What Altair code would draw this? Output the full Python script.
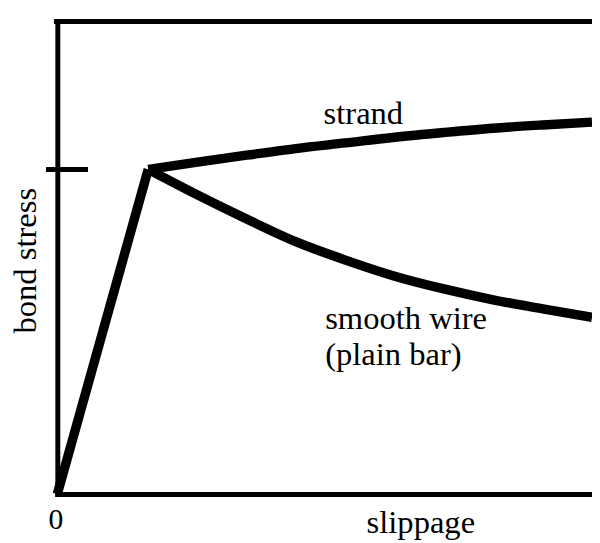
import altair as alt
import pandas as pd

# Reference values (arbitrary units)
rise_slip = [0, 17.0]
rise_stress = [0, 68.7]
strand_slip = [17.0, 26.2, 35.4, 44.6, 53.9, 63.1, 72.3, 81.5, 90.8, 100]
strand_stress = [68.7, 70.25, 71.7, 73.1, 74.3, 75.5, 76.5, 77.4, 78.1, 78.7]
smooth_slip = [17.0, 26.2, 35.4, 44.6, 53.9, 63.1, 72.3, 81.5, 90.8, 100]
smooth_stress = [68.7, 63.3, 58.2, 53.4, 49.5, 46.1, 43.4, 41.1, 39.2, 37.4]
peak_stress = 68.7

label_text = ["strand", "smooth wire", "(plain bar)"]
label_slip = [49.8, 50.1, 50.1]
label_stress = [78.3, 34.9, 27.3]

rows = []
for name, xs, ys in [("rise", rise_slip, rise_stress),
                     ("strand", strand_slip, strand_stress),
                     ("smooth", smooth_slip, smooth_stress)]:
    for i, (a, b) in enumerate(zip(xs, ys)):
        rows.append({"series": name, "slip": a, "stress": b, "order": i})
lines_df = pd.DataFrame(rows)
labels_df = pd.DataFrame({"text": label_text, "slip": label_slip, "stress": label_stress})

W, H = 542, 479
FONT = "'Liberation Serif', 'Times New Roman', Times, 'DejaVu Serif', serif"
xscale = alt.Scale(domain=[0, 100], nice=False, zero=False)
yscale = alt.Scale(domain=[0, 100], nice=False, zero=False)

lines = alt.Chart(lines_df).mark_line(
    color="black", strokeWidth=9.5, interpolate="monotone", strokeJoin="miter", strokeCap="butt"
).encode(
    x=alt.X("slip:Q", scale=xscale, axis=alt.Axis(
        values=[0], ticks=False, grid=False, labelFlush=False, format="d",
        labelFont=FONT, labelFontSize=30, labelColor="black",
        labelBaseline="alphabetic", labelPadding=35, labelOffset=-2,
        title="slippage", titleFont=FONT, titleFontSize=33, titleFontWeight="normal",
        titleColor="black", titleX=368, titleY=39, titleAlign="center",
        titleBaseline="alphabetic")),
    y=alt.Y("stress:Q", scale=yscale, axis=alt.Axis(
        values=[peak_stress], ticks=False, labels=False, grid=False,
        title="bond stress", titleFont=FONT, titleFontSize=33, titleFontWeight="normal",
        titleColor="black", titleAngle=270, titleX=-22, titleY=242,
        titleAlign="center", titleBaseline="alphabetic")),
    detail="series:N",
    order="order:Q",
)

texts = alt.Chart(labels_df).mark_text(
    font=FONT, fontSize=33, color="black", align="left", baseline="alphabetic"
).encode(
    x=alt.X("slip:Q", scale=xscale),
    y=alt.Y("stress:Q", scale=yscale),
    text="text:N",
)

tick = alt.Chart(lines_df).mark_rule(
    color="black", strokeWidth=5
).encode(
    y=alt.datum(peak_stress),
    x=alt.value(-11), x2=alt.value(31),
)

top = alt.Chart(lines_df).mark_rule(
    color="black", strokeWidth=5
).encode(
    y=alt.value(0), x=alt.value(-2.5), x2=alt.value(W),
)

chart = alt.layer(lines, texts, tick, top).properties(
    width=W, height=H,
    autosize=alt.AutoSizeParams(type="none"),
    padding={"left": 50, "top": 10, "right": 0, "bottom": 46},
).configure_view(stroke=None).configure_axis(
    domainColor="black", domainWidth=5, domainCap="square"
)

chart.save("out.html", embed_options={"renderer": "svg", "actions": False})
